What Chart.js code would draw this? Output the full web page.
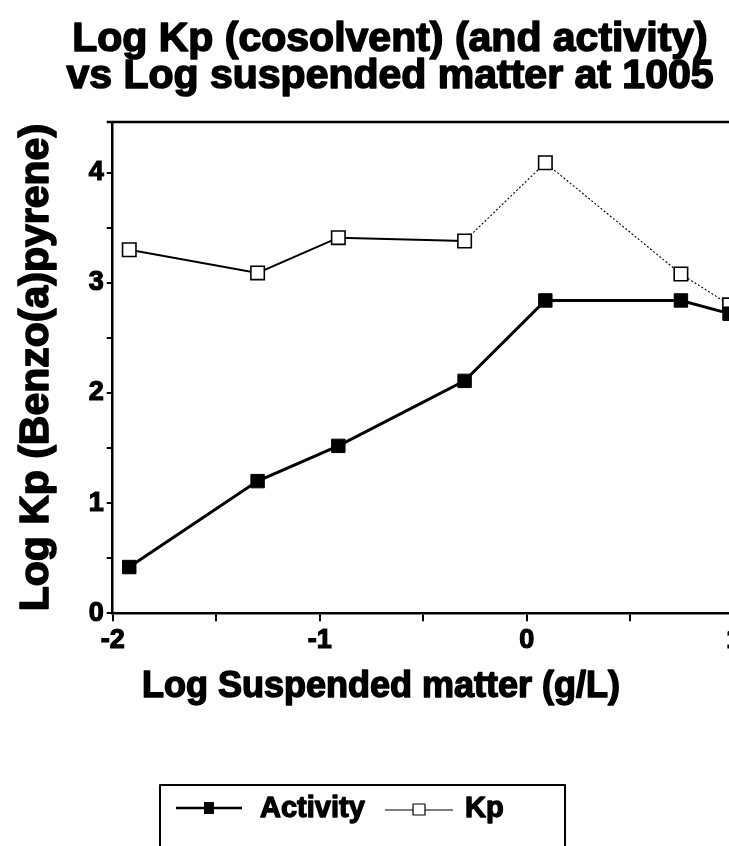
<!DOCTYPE html>
<html>
<head>
<meta charset="utf-8">
<script src="https://cdn.jsdelivr.net/npm/chart.js@4.4.0/dist/chart.umd.min.js"></script>
<style>
  html, body { margin: 0; padding: 0; overflow: hidden; background: #fff; }
  #chart { position: absolute; left: 0; top: 0; }
</style>
</head>
<body>
<canvas id="chart" width="800" height="880"></canvas>
<script>
// Log suspended matter (g/L) for each sample
const logSuspended = [-1.92, -1.30, -0.91, -0.30, 0.09, 0.745, 0.98];
// Log Kp of benzo(a)pyrene, activity based and cosolvent based
const activity = [0.42, 1.20, 1.52, 2.11, 2.84, 2.84, 2.72];
const logKp = [3.30, 3.09, 3.41, 3.38, 4.09, 3.08, 2.80];

const titleLines = ["Log Kp (cosolvent) (and activity)", "vs Log suspended matter at 1005"];
const xTitle = "Log Suspended matter (g/L)";
const yTitle = "Log Kp (Benzo(a)pyrene)";
const seriesNames = ["Activity", "Kp"];

const FONT = '"Liberation Sans", Arial, Helvetica, sans-serif';

const toPoints = ys => ys.map((y, i) => ({ x: logSuspended[i], y: y }));
const wholeOnly = v => (Number.isInteger(v) ? String(v) : "");

// heavy text: fill plus a thin outline of the same colour
function heavyText(ctx, text, x, y, size, weight) {
  ctx.font = "bold " + size + "px " + FONT;
  ctx.lineWidth = weight;
  ctx.lineJoin = "round";
  ctx.strokeStyle = "#000";
  ctx.fillStyle = "#000";
  ctx.strokeText(text, x, y);
  ctx.fillText(text, x, y);
}

function drawSample(ctx, x0, x1, y, lineWidth, filled) {
  ctx.beginPath();
  ctx.moveTo(x0, y);
  ctx.lineTo(x1, y);
  ctx.lineWidth = lineWidth;
  ctx.strokeStyle = "#000";
  ctx.stroke();
  const mid = (x0 + x1) / 2;
  if (filled) {
    ctx.fillStyle = "#000";
    ctx.fillRect(mid - 5, y - 6, 10, 12);
  } else {
    ctx.fillStyle = "#fff";
    ctx.fillRect(mid - 6, y - 6, 12, 11);
    ctx.lineWidth = 1.2;
    ctx.strokeRect(mid - 6, y - 6, 12, 11);
  }
}

// title, axis captions, top frame line and boxed legend
const decorations = {
  id: "decorations",
  afterDraw(chart) {
    const ctx = chart.ctx;
    const area = chart.chartArea;
    ctx.save();

    ctx.beginPath();
    ctx.moveTo(area.left - 6, area.top);
    ctx.lineTo(area.right, area.top);
    ctx.lineWidth = 2.5;
    ctx.strokeStyle = "#000";
    ctx.stroke();

    ctx.textAlign = "center";
    ctx.textBaseline = "alphabetic";
    heavyText(ctx, titleLines[0], 390, 51, 41, 1.6);
    heavyText(ctx, titleLines[1], 390, 88, 41, 1.6);
    heavyText(ctx, xTitle, 381, 697, 36, 1.5);

    ctx.save();
    ctx.translate(48, (area.top + area.bottom) / 2);
    ctx.rotate(-Math.PI / 2);
    heavyText(ctx, yTitle, 0, 0, 41, 1.6);
    ctx.restore();

    // legend
    ctx.lineWidth = 2;
    ctx.strokeStyle = "#000";
    ctx.strokeRect(160, 785, 405, 120);
    drawSample(ctx, 176, 242, 808, 2.5, true);
    drawSample(ctx, 385, 453, 810, 1.2, false);
    ctx.textAlign = "left";
    heavyText(ctx, seriesNames[0], 260, 817, 29, 1.3);
    heavyText(ctx, seriesNames[1], 465, 817, 29, 1.3);
    ctx.restore();
  }
};

const tickFont = { family: FONT, size: 27, weight: "bold" };

new Chart(document.getElementById("chart").getContext("2d"), {
  type: "line",
  data: {
    datasets: [
      {
        label: seriesNames[0],
        data: toPoints(activity),
        borderColor: "#000",
        borderWidth: 3,
        pointStyle: "rect",
        pointRadius: 9.5,
        pointBackgroundColor: "#000",
        pointBorderColor: "#000",
        pointBorderWidth: 1,
        tension: 0,
      },
      {
        label: seriesNames[1],
        data: toPoints(logKp),
        borderColor: "#000",
        borderWidth: 2,
        pointStyle: "rect",
        pointRadius: 9.5,
        pointBackgroundColor: "#fff",
        pointBorderColor: "#000",
        pointBorderWidth: 1.6,
        tension: 0,
        segment: {
          borderDash: c => (c.p0DataIndex >= 3 ? [2, 2] : undefined),
          borderWidth: c => (c.p0DataIndex >= 3 ? 1.1 : undefined),
        },
      },
    ],
  },
  options: {
    responsive: false,
    animation: false,
    devicePixelRatio: 1,
    layout: { padding: { left: 0, top: 122, right: 66.3, bottom: 226.7 } },
    plugins: {
      legend: { display: false },
      tooltip: { enabled: false },
    },
    scales: {
      x: {
        type: "linear",
        min: -2,
        max: 1,
        afterFit: s => { s.height = 40; },
        ticks: {
          stepSize: 0.5,
          autoSkip: false,
          maxRotation: 0,
          padding: 3,
          color: "#000",
          textStrokeColor: "#000",
          textStrokeWidth: 1.2,
          font: tickFont,
          callback: wholeOnly,
        },
        grid: { drawOnChartArea: false, tickLength: 8, color: "#000", lineWidth: 2 },
        border: { color: "#000", width: 2.5 },
      },
      y: {
        min: 0,
        max: 4.46,
        afterFit: s => { s.width = 112.7; },
        ticks: {
          stepSize: 0.5,
          includeBounds: false,
          padding: 3,
          color: "#000",
          textStrokeColor: "#000",
          textStrokeWidth: 1.2,
          font: tickFont,
          callback: wholeOnly,
        },
        grid: { drawOnChartArea: false, tickLength: 6, color: "#000", lineWidth: 2 },
        border: { color: "#000", width: 2.5 },
      },
    },
  },
  plugins: [decorations],
});
</script>
</body>
</html>
